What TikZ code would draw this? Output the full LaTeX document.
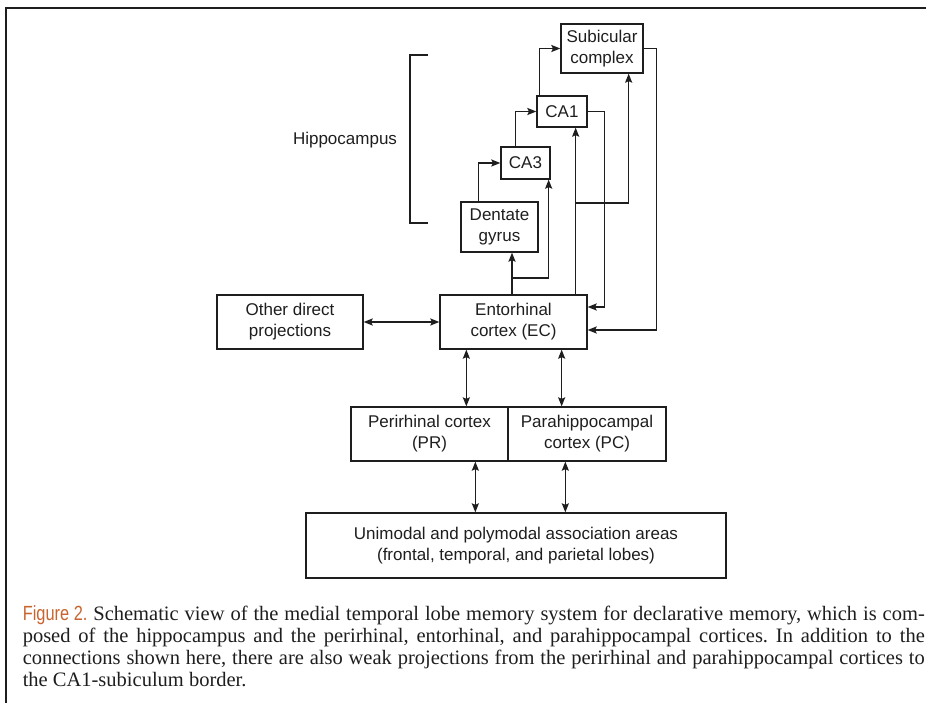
\documentclass[tikz,border=0pt]{standalone}
\usepackage{fontspec}
\setmainfont{Liberation Serif}
\setsansfont{Liberation Sans}
\usetikzlibrary{arrows.meta}
\definecolor{figorange}{HTML}{C9642E}
\definecolor{ink}{HTML}{1E1E1E}
\begin{document}
\frenchspacing
\begin{tikzpicture}[x=1pt,y=-1pt,line width=1.5pt,color=ink,
  box/.style={draw,line width=1.3pt,inner sep=0pt,align=center,font=\sffamily\fontsize{17}{21}\selectfont},
  captext/.style={anchor=base west,inner sep=0pt,font=\fontsize{20.5}{22}\selectfont},
  >={Stealth[length=9pt,width=7pt,inset=1.5pt]}]
\useasboundingbox (0,0) rectangle (926,702);
\draw[line width=2.5pt] (6,712) -- (6,8) -- (940,8);
\node[box,minimum width=82pt,minimum height=49pt] (sub) at (602,48.5) {Subicular\\complex};
\node[box,minimum width=50pt,minimum height=31pt] (ca1) at (562,111.5) {CA1};
\node[box,minimum width=49pt,minimum height=32pt] (ca3) at (525.5,163) {CA3};
\node[box,minimum width=77pt,minimum height=50pt] (dg) at (499.5,227) {Dentate\\gyrus};
\node[box,minimum width=147pt,minimum height=54pt] (ec) at (513.5,322) {Entorhinal\\cortex (EC)};
\node[box,minimum width=146pt,minimum height=54pt] (odp) at (290,322) {Other direct\\projections};
\node[box,minimum width=157pt,minimum height=54pt] (pr) at (429.5,434) {Perirhinal cortex\\(PR)};
\node[box,minimum width=158pt,minimum height=54pt] (pc) at (587,434) {Parahippocampal\\cortex (PC)};
\node[box,minimum width=420pt,minimum height=65pt] (uni) at (516,545.5) {Unimodal and polymodal association areas\\(frontal, temporal, and parietal lobes)};
\node[font=\sffamily\fontsize{17}{21}\selectfont] (hip) at (345,140) {Hippocampus};
\draw[line width=1.2pt] (428,55) -- (410,55) -- (410,223) -- (428,223);
\coordinate (j1) at (512,278);
\coordinate (j2) at (575,203);
\path (ec.south west) ++(27,0) coordinate (e1) (ec.south east) ++(-26,0) coordinate (e2)
  (pr.south west) ++(125,0) coordinate (p1) (pc.south west) ++(58,0) coordinate (p2);
\draw[->] ([xshift=18pt]dg.north west) |- (ca3.west);
\draw[->] ([xshift=15pt]ca3.north west) |- (ca1.west);
\draw[->] ([xshift=3pt]ca1.north west) |- (sub.west);
\draw[->] (ec.north -| j1) -- (dg.south -| j1);
\draw[->] (j1) -| ([xshift=-2pt]ca3.south east);
\draw[->] ([xshift=-12pt]ec.north east) -- ([xshift=-12pt]ca1.south east);
\draw[->] (j2) -| ([xshift=-15pt]sub.south east);
\draw[->] (ca1.east) -- ++(17,0) |- ([yshift=15pt]ec.east);
\draw[->] (sub.east) -- ++(13,0) |- ([yshift=-8pt]ec.east);
\draw[<->] (odp) -- (ec);
\draw[<->] (e1) -- (e1 |- pr.north);
\draw[<->] (e2) -- (e2 |- pc.north);
\draw[<->] (p1) -- (p1 |- uni.north);
\draw[<->] (p2) -- (p2 |- uni.north);
\node[captext] (cap1) at (22,620) {\makebox[902pt][s]{{\color{figorange}\scalebox{0.8}[1]{\sffamily Figure 2.}} Schematic view of the medial temporal lobe memory system for declarative memory, which is com-}};
\node[captext] (cap2) at (22,642) {\makebox[902pt][s]{posed of the hippocampus and the perirhinal, entorhinal, and parahippocampal cortices. In addition to the}};
\node[captext] (cap3) at (22,664) {\makebox[902pt][s]{connections shown here, there are also weak projections from the perirhinal and parahippocampal cortices to}};
\node[captext] (cap4) at (22,686) {the CA1-subiculum border.};
\end{tikzpicture}
\end{document}
